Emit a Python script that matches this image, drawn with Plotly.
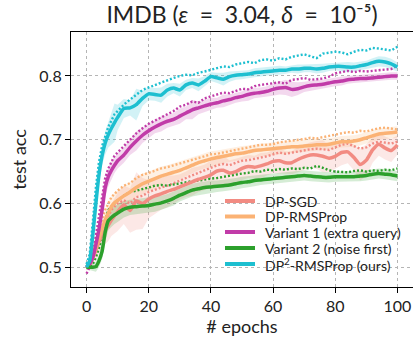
import plotly.graph_objects as go

epochs = [0, 1, 2, 3, 4, 5, 6, 7, 8, 9, 10,
          12, 14, 16, 18, 20, 22, 24, 26, 28,
          30, 32, 34, 36, 38, 40, 42, 44, 46,
          48, 50, 52, 54, 56, 58, 60, 62, 64,
          66, 68, 70, 72, 74, 76, 78, 80, 82,
          84, 86, 88, 90, 92, 94, 96, 98, 100]

x_ticks = [0, 20, 40, 60, 80, 100]
y_ticks = [0.5, 0.6, 0.7, 0.8]
y_tick_labels = ["0.5", "0.6", "0.7", "0.8"]

# DP-SGD
sgd_mean = [0.500, 0.505, 0.515, 0.527, 0.540, 0.550, 0.558, 0.566, 0.574, 0.581, 0.587,
            0.598, 0.589, 0.604, 0.600, 0.607, 0.612, 0.615, 0.619, 0.622,
            0.626, 0.630, 0.634, 0.638, 0.641, 0.645, 0.651, 0.652, 0.648,
            0.650, 0.655, 0.658, 0.657, 0.659, 0.662, 0.666, 0.667, 0.664,
            0.664, 0.669, 0.673, 0.676, 0.676, 0.674, 0.671, 0.674, 0.680,
            0.681, 0.672, 0.661, 0.668, 0.684, 0.693, 0.687, 0.683, 0.692]
sgd_best = [0.505, 0.510, 0.520, 0.535, 0.550, 0.560, 0.570, 0.580, 0.590, 0.595, 0.600,
            0.605, 0.600, 0.610, 0.612, 0.618, 0.622, 0.625, 0.628, 0.632,
            0.636, 0.640, 0.645, 0.648, 0.652, 0.656, 0.660, 0.662, 0.660,
            0.664, 0.667, 0.668, 0.670, 0.671, 0.674, 0.677, 0.680, 0.678,
            0.680, 0.682, 0.683, 0.685, 0.686, 0.685, 0.684, 0.688, 0.692,
            0.694, 0.690, 0.686, 0.688, 0.694, 0.697, 0.695, 0.694, 0.697]
sgd_std = [0.005, 0.008, 0.012, 0.015, 0.018, 0.020, 0.022, 0.025, 0.025, 0.028, 0.030,
           0.030, 0.035, 0.045, 0.040, 0.030, 0.028, 0.025, 0.025, 0.022,
           0.020, 0.020, 0.022, 0.020, 0.020, 0.022, 0.025, 0.022, 0.020,
           0.020, 0.018, 0.018, 0.018, 0.020, 0.018, 0.018, 0.020, 0.018,
           0.018, 0.020, 0.020, 0.020, 0.022, 0.025, 0.022, 0.020, 0.020,
           0.018, 0.020, 0.025, 0.025, 0.020, 0.018, 0.018, 0.018, 0.015]

# DP-RMSProp
rms_mean = [0.500, 0.505, 0.515, 0.530, 0.545, 0.560, 0.574, 0.585, 0.595, 0.601, 0.605,
            0.612, 0.618, 0.625, 0.631, 0.635, 0.639, 0.643, 0.646, 0.649,
            0.652, 0.656, 0.660, 0.664, 0.667, 0.670, 0.672, 0.674, 0.676,
            0.678, 0.679, 0.681, 0.683, 0.684, 0.685, 0.686, 0.687, 0.688,
            0.689, 0.689, 0.690, 0.691, 0.692, 0.692, 0.693, 0.695, 0.697,
            0.697, 0.698, 0.700, 0.703, 0.706, 0.709, 0.710, 0.711, 0.712]
rms_best = [0.500, 0.510, 0.520, 0.540, 0.560, 0.575, 0.590, 0.600, 0.610, 0.615, 0.620,
            0.628, 0.632, 0.640, 0.645, 0.648, 0.652, 0.655, 0.657, 0.660,
            0.662, 0.665, 0.668, 0.672, 0.675, 0.677, 0.678, 0.680, 0.682,
            0.683, 0.686, 0.688, 0.690, 0.692, 0.692, 0.693, 0.696, 0.697,
            0.698, 0.700, 0.701, 0.703, 0.702, 0.704, 0.706, 0.708, 0.709,
            0.712, 0.711, 0.714, 0.713, 0.716, 0.718, 0.719, 0.717, 0.716]
rms_std = [0.005, 0.006, 0.008, 0.010, 0.012, 0.013, 0.014, 0.015, 0.016, 0.016, 0.016,
           0.016, 0.015, 0.015, 0.016, 0.015, 0.015, 0.015, 0.014, 0.014,
           0.014, 0.013, 0.013, 0.012, 0.012, 0.012, 0.011, 0.011, 0.011,
           0.011, 0.011, 0.010, 0.010, 0.010, 0.010, 0.010, 0.010, 0.010,
           0.010, 0.010, 0.010, 0.010, 0.010, 0.009, 0.009, 0.009, 0.009,
           0.009, 0.009, 0.009, 0.009, 0.009, 0.009, 0.009, 0.009, 0.009]

# Variant 1 (extra query)
v1_mean = [0.500, 0.505, 0.515, 0.535, 0.560, 0.590, 0.625, 0.642, 0.652, 0.660, 0.667,
           0.676, 0.688, 0.698, 0.707, 0.714, 0.720, 0.725, 0.729, 0.732,
           0.737, 0.742, 0.747, 0.750, 0.753, 0.756, 0.758, 0.761, 0.763,
           0.766, 0.768, 0.771, 0.773, 0.774, 0.776, 0.779, 0.781, 0.782,
           0.779, 0.780, 0.783, 0.785, 0.786, 0.787, 0.789, 0.791, 0.792,
           0.794, 0.795, 0.796, 0.796, 0.797, 0.798, 0.799, 0.800, 0.800]
v1_best = [0.490, 0.500, 0.520, 0.550, 0.585, 0.615, 0.640, 0.655, 0.665, 0.675, 0.680,
           0.690, 0.700, 0.710, 0.718, 0.725, 0.730, 0.735, 0.740, 0.745,
           0.752, 0.755, 0.760, 0.758, 0.765, 0.768, 0.770, 0.774, 0.773,
           0.777, 0.780, 0.779, 0.784, 0.786, 0.787, 0.789, 0.790, 0.788,
           0.794, 0.795, 0.797, 0.794, 0.795, 0.796, 0.799, 0.804, 0.806,
           0.808, 0.806, 0.808, 0.807, 0.808, 0.809, 0.810, 0.811, 0.816]
v1_std = [0.005, 0.006, 0.010, 0.012, 0.015, 0.015, 0.015, 0.015, 0.015, 0.012, 0.012,
          0.012, 0.012, 0.015, 0.012, 0.012, 0.010, 0.012, 0.010, 0.010,
          0.012, 0.010, 0.015, 0.010, 0.010, 0.010, 0.008, 0.010, 0.008,
          0.008, 0.008, 0.010, 0.008, 0.008, 0.008, 0.010, 0.010, 0.012,
          0.012, 0.010, 0.008, 0.008, 0.008, 0.007, 0.007, 0.007, 0.007,
          0.006, 0.006, 0.006, 0.006, 0.006, 0.006, 0.006, 0.006, 0.006]

# Variant 2 (noise first)
v2_mean = [0.500, 0.500, 0.500, 0.501, 0.510, 0.525, 0.555, 0.573, 0.578, 0.582, 0.585,
           0.591, 0.594, 0.595, 0.596, 0.597, 0.599, 0.601, 0.604, 0.608,
           0.613, 0.617, 0.621, 0.623, 0.625, 0.626, 0.627, 0.628, 0.629,
           0.631, 0.633, 0.634, 0.636, 0.637, 0.638, 0.639, 0.640, 0.641,
           0.642, 0.643, 0.644, 0.643, 0.642, 0.641, 0.641, 0.642, 0.642,
           0.642, 0.642, 0.643, 0.644, 0.646, 0.647, 0.646, 0.645, 0.643]
v2_best = [0.500, 0.500, 0.505, 0.515, 0.530, 0.550, 0.575, 0.590, 0.595, 0.600, 0.605,
           0.612, 0.618, 0.620, 0.622, 0.625, 0.628, 0.629, 0.628, 0.630,
           0.632, 0.634, 0.635, 0.636, 0.638, 0.639, 0.640, 0.642, 0.644,
           0.645, 0.647, 0.648, 0.651, 0.650, 0.653, 0.652, 0.654, 0.653,
           0.655, 0.654, 0.656, 0.655, 0.659, 0.656, 0.652, 0.650, 0.650,
           0.649, 0.651, 0.652, 0.650, 0.652, 0.651, 0.653, 0.652, 0.655]
v2_std = [0.003, 0.004, 0.005, 0.008, 0.010, 0.012, 0.015, 0.015, 0.015, 0.014, 0.014,
          0.013, 0.012, 0.012, 0.012, 0.012, 0.012, 0.011, 0.011, 0.011,
          0.010, 0.010, 0.010, 0.010, 0.010, 0.010, 0.009, 0.009, 0.009,
          0.009, 0.009, 0.009, 0.009, 0.008, 0.008, 0.008, 0.008, 0.008,
          0.008, 0.008, 0.008, 0.008, 0.008, 0.008, 0.008, 0.008, 0.008,
          0.008, 0.008, 0.008, 0.008, 0.008, 0.008, 0.008, 0.008, 0.008]

# DP^2-RMSProp (ours)
dp2_mean = [0.500, 0.510, 0.550, 0.600, 0.645, 0.675, 0.695, 0.708, 0.718, 0.727, 0.735,
            0.749, 0.750, 0.755, 0.765, 0.772, 0.771, 0.770, 0.778, 0.781,
            0.778, 0.786, 0.789, 0.786, 0.792, 0.799, 0.797, 0.795, 0.799,
            0.801, 0.802, 0.803, 0.805, 0.806, 0.807, 0.808, 0.809, 0.809,
            0.811, 0.811, 0.812, 0.812, 0.811, 0.812, 0.814, 0.815, 0.815,
            0.814, 0.814, 0.816, 0.818, 0.821, 0.823, 0.822, 0.819, 0.814]
dp2_best = [0.505, 0.520, 0.570, 0.625, 0.665, 0.690, 0.705, 0.720, 0.730, 0.740, 0.745,
            0.755, 0.763, 0.770, 0.778, 0.782, 0.786, 0.790, 0.794, 0.797,
            0.800, 0.802, 0.801, 0.805, 0.807, 0.810, 0.812, 0.815, 0.814,
            0.818, 0.820, 0.822, 0.820, 0.825, 0.826, 0.824, 0.828, 0.826,
            0.830, 0.832, 0.834, 0.831, 0.828, 0.835, 0.836, 0.838, 0.837,
            0.834, 0.838, 0.841, 0.840, 0.844, 0.843, 0.842, 0.840, 0.846]
dp2_std = [0.004, 0.008, 0.012, 0.015, 0.015, 0.015, 0.018, 0.020, 0.025, 0.030, 0.020,
           0.015, 0.012, 0.025, 0.012, 0.010, 0.010, 0.012, 0.010, 0.008,
           0.010, 0.008, 0.008, 0.010, 0.008, 0.007, 0.008, 0.010, 0.008,
           0.007, 0.007, 0.006, 0.007, 0.007, 0.006, 0.006, 0.007, 0.006,
           0.006, 0.007, 0.006, 0.006, 0.007, 0.007, 0.006, 0.006, 0.007,
           0.008, 0.007, 0.007, 0.006, 0.007, 0.008, 0.008, 0.008, 0.007]

names = ["DP-SGD", "DP-RMSProp", "Variant 1 (extra query)", "Variant 2 (noise first)",
         "DP<sup>2</sup>-RMSProp (ours)"]
colors = ["#F28B82", "#FBB274", "#C13BA8", "#2CA02C", "#1DBFD0"]
means = [sgd_mean, rms_mean, v1_mean, v2_mean, dp2_mean]
bests = [sgd_best, rms_best, v1_best, v2_best, dp2_best]
stds = [sgd_std, rms_std, v1_std, v2_std, dp2_std]

FONT = "Lato, 'Open Sans', sans-serif"
TEXT = "#222222"

# figure geometry (pixels)
W, H = 413, 339
M_L, M_R, M_T, M_B = 71, 0, 32, 52
PLOT_W = W - M_L - M_R
PLOT_H = H - M_T - M_B
# manual legend placement (pixels in figure)
LEG_LINE_X0, LEG_LINE_X1, LEG_TEXT_X = 225, 255, 263
LEG_ROWS_Y = [201, 216.5, 232, 248, 264]


def rgba(hex_color, a):
    h = hex_color.lstrip("#")
    r, g, b = int(h[0:2], 16), int(h[2:4], 16), int(h[4:6], 16)
    return f"rgba({r},{g},{b},{a})"


def px_to_paper_x(px):
    return (px - M_L) / PLOT_W


def px_to_paper_y(py):
    return (H - M_B - py) / PLOT_H


fig = go.Figure()

# shaded bands
for name, mean, std, color in zip(names, means, stds, colors):
    upper = [m + s for m, s in zip(mean, std)]
    lower = [m - s for m, s in zip(mean, std)]
    fig.add_trace(go.Scatter(x=epochs, y=upper, mode="lines", line=dict(width=0),
                             showlegend=False, hoverinfo="skip"))
    fig.add_trace(go.Scatter(x=epochs, y=lower, mode="lines", line=dict(width=0),
                             fill="tonexty", fillcolor=rgba(color, 0.2),
                             showlegend=False, hoverinfo="skip"))

# dotted (best-run) curves
for name, best, color in zip(names, bests, colors):
    fig.add_trace(go.Scatter(x=epochs, y=best, mode="lines",
                             line=dict(color=color, width=2.4, dash="2px,2px"),
                             showlegend=False, hoverinfo="skip"))

# solid mean curves
for name, mean, color in zip(names, means, colors):
    fig.add_trace(go.Scatter(x=epochs, y=mean, mode="lines", name=name,
                             line=dict(color=color, width=3.5, shape="spline", smoothing=0.5),
                             showlegend=False))

# legend (drawn as line samples + text so row spacing matches)
shapes = []
annotations = []
for name, color, row_y in zip(names, colors, LEG_ROWS_Y):
    yp = px_to_paper_y(row_y)
    shapes.append(dict(type="line", xref="paper", yref="paper",
                       x0=px_to_paper_x(LEG_LINE_X0), x1=px_to_paper_x(LEG_LINE_X1),
                       y0=yp, y1=yp, line=dict(color=color, width=4)))
    annotations.append(dict(text=name, xref="paper", yref="paper",
                            x=px_to_paper_x(LEG_TEXT_X), y=yp,
                            xanchor="left", yanchor="middle", showarrow=False,
                            font=dict(size=14, color=TEXT, family=FONT)))

axis_common = dict(
    showline=True, linecolor="black", linewidth=1.2,
    ticks="outside", ticklen=5, tickwidth=1.2, tickcolor="black",
    showgrid=True, gridcolor="#b5b5b5", griddash="dot", gridwidth=1,
    zeroline=False, tickfont=dict(size=16, color=TEXT),
)

title_text = "IMDB (<i>ε</i>\u2002=\u20023.04, <i>δ</i>\u2002=\u200210⁻⁵)"

fig.update_layout(
    width=W, height=H,
    margin=dict(l=M_L, r=M_R, t=M_T, b=M_B),
    paper_bgcolor="white", plot_bgcolor="white",
    font=dict(family=FONT, color=TEXT),
    title=dict(text=title_text,
               x=0.5, xref="paper", xanchor="center",
               y=1 - 15 / H, yref="container", yanchor="middle",
               font=dict(size=23, color=TEXT)),
    xaxis=dict(range=[-5, 105], tickvals=x_ticks, mirror=True,
               title=dict(text="# epochs", font=dict(size=18), standoff=4),
               **axis_common),
    yaxis=dict(range=[0.469, 0.869], tickvals=y_ticks, ticktext=y_tick_labels,
               title=dict(text="test acc", font=dict(size=18), standoff=8),
               **axis_common),
    shapes=shapes,
    annotations=annotations,
    showlegend=False,
)

fig.write_html("out.html", config={"displayModeBar": False},
               post_script="document.body.style.margin='0';")
